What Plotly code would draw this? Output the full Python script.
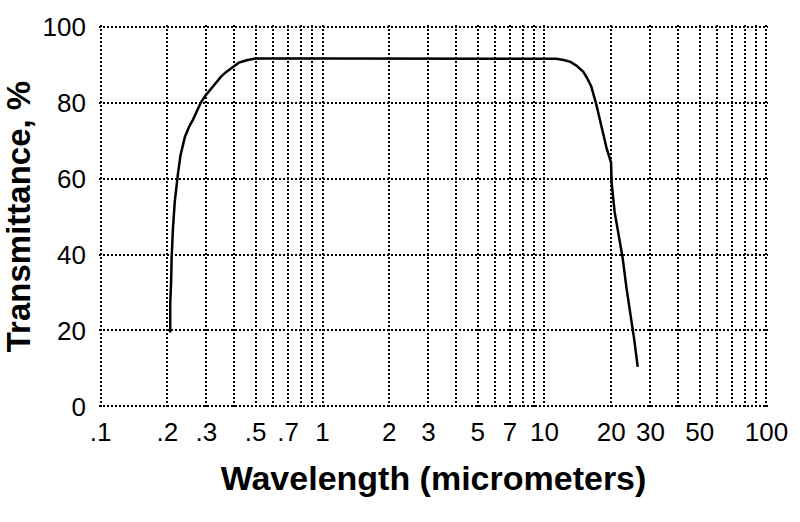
import plotly.graph_objects as go

# Wavelength (micrometers) and transmittance (%)
wavelength = [0.206, 0.206, 0.208, 0.209, 0.212, 0.216, 0.223, 0.229, 0.240, 0.250,
              0.261, 0.272, 0.283, 0.296, 0.311, 0.330, 0.349, 0.367, 0.387, 0.420,
              0.460, 0.500, 1.0, 5.0, 10.0, 11.3, 12.2, 13.1, 14.0, 14.96,
              15.6, 16.25, 17.05, 17.6, 18.2, 19.1, 19.95, 20.06, 20.7, 21.55,
              22.5, 23.4, 24.4, 25.4, 26.3]
transmittance = [19.5, 27.0, 33.0, 39.0, 47.0, 54.0, 61.0, 66.0, 71.0, 73.5,
                 75.5, 78.0, 80.0, 81.7, 83.3, 85.2, 86.8, 88.0, 89.0, 90.5,
                 91.2, 91.6, 91.6, 91.6, 91.6, 91.5, 91.2, 90.7, 89.6, 88.1,
                 86.3, 84.2, 79.9, 76.5, 72.9, 67.7, 64.2, 59.0, 51.2, 45.2,
                 39.1, 31.3, 24.3, 17.4, 10.4]

x_tickvals = [0.1, 0.2, 0.3, 0.5, 0.7, 1, 2, 3, 5, 7, 10, 20, 30, 50, 100]
x_ticktext = [".1", ".2", ".3", ".5", ".7", "1", "2", "3", "5", "7", "10", "20", "30", "50", "100"]
x_minorvals = [0.4, 0.6, 0.8, 0.9, 4, 6, 8, 9, 40, 60, 70, 80, 90]
y_tickvals = [0, 20, 40, 60, 80, 100]

FONT = "Liberation Sans, Arial, sans-serif"

fig = go.Figure()
fig.add_trace(go.Scatter(x=wavelength, y=transmittance, mode="lines",
                         line=dict(color="black", width=2.5), showlegend=False))

grid = dict(showgrid=True, gridcolor="black", gridwidth=1.5, griddash="2px,2px")

fig.update_layout(
    width=800, height=522,
    margin=dict(l=96, r=23, t=22, b=114),
    paper_bgcolor="white", plot_bgcolor="white",
    font=dict(family=FONT, color="black", size=26),
    xaxis=dict(type="log", range=[-1.007, 2.007], tickvals=x_tickvals, ticktext=x_ticktext,
               ticks="", showline=False, zeroline=False, ticklabelstandoff=6,
               tickfont=dict(size=26),
               minor=dict(tickvals=x_minorvals, ticks="", showgrid=True,
                          gridcolor="black", gridwidth=1.5, griddash="2px,2px"),
               title=dict(text="<b>Wavelength (micrometers)</b>",
                          font=dict(size=34), standoff=20),
               **grid),
    yaxis=dict(range=[-0.4, 100.4], tickvals=y_tickvals, ticks="", showline=False,
               zeroline=False, ticklabelstandoff=12, tickfont=dict(size=26),
               title=dict(text="<b>Transmittance, %</b>", font=dict(size=33), standoff=8),
               **grid),
)

fig.write_html("out.html")
